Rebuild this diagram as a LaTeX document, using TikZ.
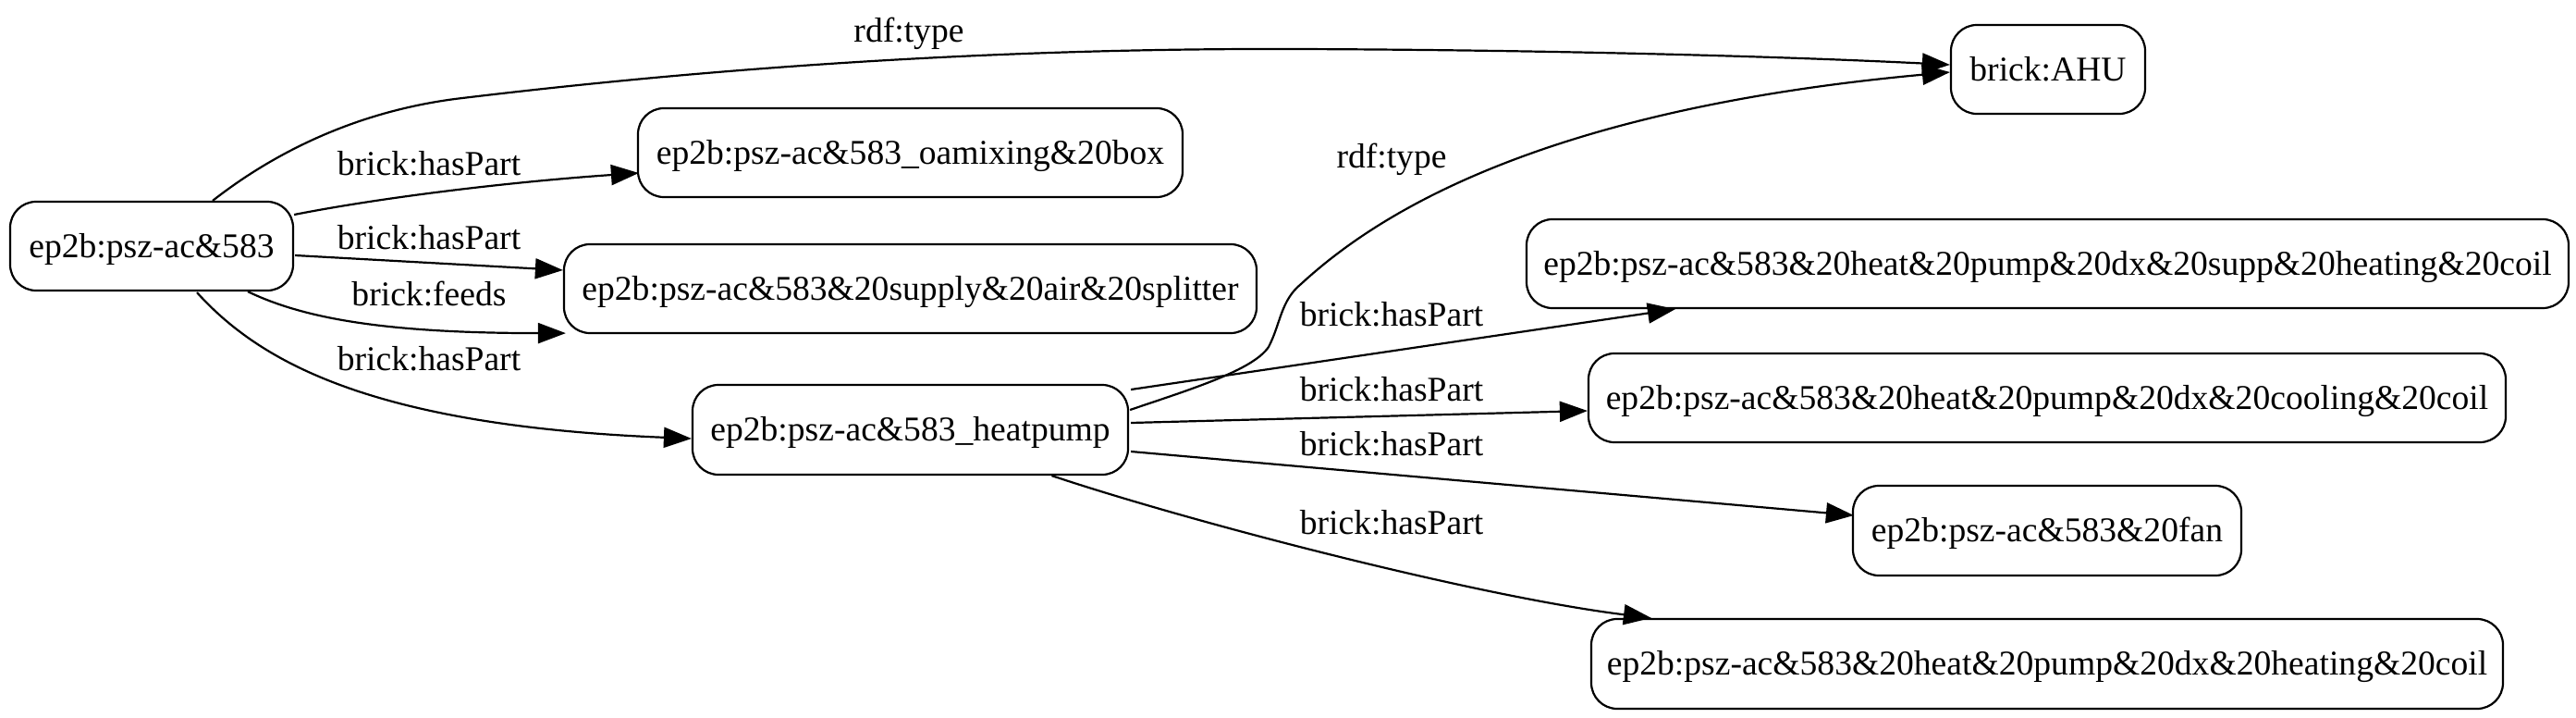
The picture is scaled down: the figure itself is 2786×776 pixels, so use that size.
\documentclass[tikz,border=0pt]{standalone}
\usepackage{fontspec}
\setmainfont{Liberation Serif}
\usetikzlibrary{arrows.meta,calc}
\begin{document}
\begin{tikzpicture}[x=0.5pt,y=-0.5pt,
  every node/.style={font=\fontsize{18.8}{22}\selectfont},
  ent/.style={draw, line width=1.1pt, rounded corners=14pt, inner sep=0pt,
    text height=14pt, text depth=2pt, minimum height=48pt},
  lbl/.style={anchor=base, inner sep=0pt},
  rel/.style={line width=1.1pt, -{Triangle[length=15pt,width=11pt]}}
]
\useasboundingbox (0,0) rectangle (2786,776);
% nodes
\node[ent, minimum width=153pt] (src) at (164,266) {ep2b:psz-ac\&583};
\node[ent, minimum width=105pt] (ahu) at (2215,75) {brick:AHU};
\node[ent, minimum width=294.5pt] (oamix) at (984.5,165) {ep2b:psz-ac\&583\_oamixing\&20box};
\node[ent, minimum width=374.5pt] (split) at (984.5,312) {ep2b:psz-ac\&583\&20supply\&20air\&20splitter};
\node[ent, minimum width=235.5pt, minimum height=48.5pt] (hp) at (984.5,464.5) {ep2b:psz-ac\&583\_heatpump};
\node[ent, minimum width=563.5pt] (supp) at (2214.5,285) {ep2b:psz-ac\&583\&20heat\&20pump\&20dx\&20supp\&20heating\&20coil};
\node[ent, minimum width=496pt] (cool) at (2214,430) {ep2b:psz-ac\&583\&20heat\&20pump\&20dx\&20cooling\&20coil};
\node[ent, minimum width=210pt, minimum height=48.5pt] (fan) at (2214,573.5) {ep2b:psz-ac\&583\&20fan};
\node[ent, minimum width=493pt, minimum height=48.5pt] (heat) at (2214,717.5) {ep2b:psz-ac\&583\&20heat\&20pump\&20dx\&20heating\&20coil};
% edges from src
\draw[rel] ($(src.north)+(66,0)$) .. controls (290,170) and (380,120) .. (500,106)
  .. controls (800,70) and (1100,52) .. (1400,53)
  .. controls (1700,54) and (1950,62) .. ($(ahu.west)+(0,-5)$);
\node[lbl] (l1) at (983,46) {rdf:type};
\draw[rel] ($(src.east)+(0,-34)$) .. controls (420,212) and (560,196) .. ($(oamix.west)+(2,22)$);
\node[lbl] (l2) at (464,189) {brick:hasPart};
\draw[rel] ($(src.east)+(1,10)$) -- ($(split.west)+(0,-20)$);
\node[lbl] (l3) at (464,269) {brick:hasPart};
\draw[rel] ($(src.south)+(104,0)$) .. controls (330,345) and (420,360) .. ($(split.south west)+(3,-1)$);
\node[lbl] (l4) at (464,330) {brick:feeds};
\draw[rel] ($(src.south)+(49,1)$) .. controls (280,390) and (400,460) .. ($(hp.west)+(0,9.5)$);
\node[lbl] (l5) at (464,400) {brick:hasPart};
% edges from heatpump
\draw[rel] ($(hp.east)+(1,-21.5)$) .. controls (1290,420) and (1355,400) .. (1372,375)
  .. controls (1385,350) and (1385,325) .. (1407,307)
  .. controls (1480,240) and (1650,120) .. ($(ahu.west)+(0,3)$);
\node[lbl] (l6) at (1505,181) {rdf:type};
\draw[rel] ($(hp.east)+(2,-43.5)$) -- ($(supp.south west)+(162,0)$);
\node[lbl] (l7) at (1505,352) {brick:hasPart};
\draw[rel] ($(hp.east)+(2,-7.5)$) -- ($(cool.west)+(0,14)$);
\node[lbl] (l8) at (1505,433) {brick:hasPart};
\draw[rel] ($(hp.east)+(2,23.5)$) -- ($(fan.west)+(2,-16.5)$);
\node[lbl] (l9) at (1505,492) {brick:hasPart};
\draw[rel] ($(hp.south)+(153,0)$) .. controls (1290,565) and (1600,645) .. ($(heat.north west)+(66,0)$);
\node[lbl] (l10) at (1505,577) {brick:hasPart};
\end{tikzpicture}
\end{document}
